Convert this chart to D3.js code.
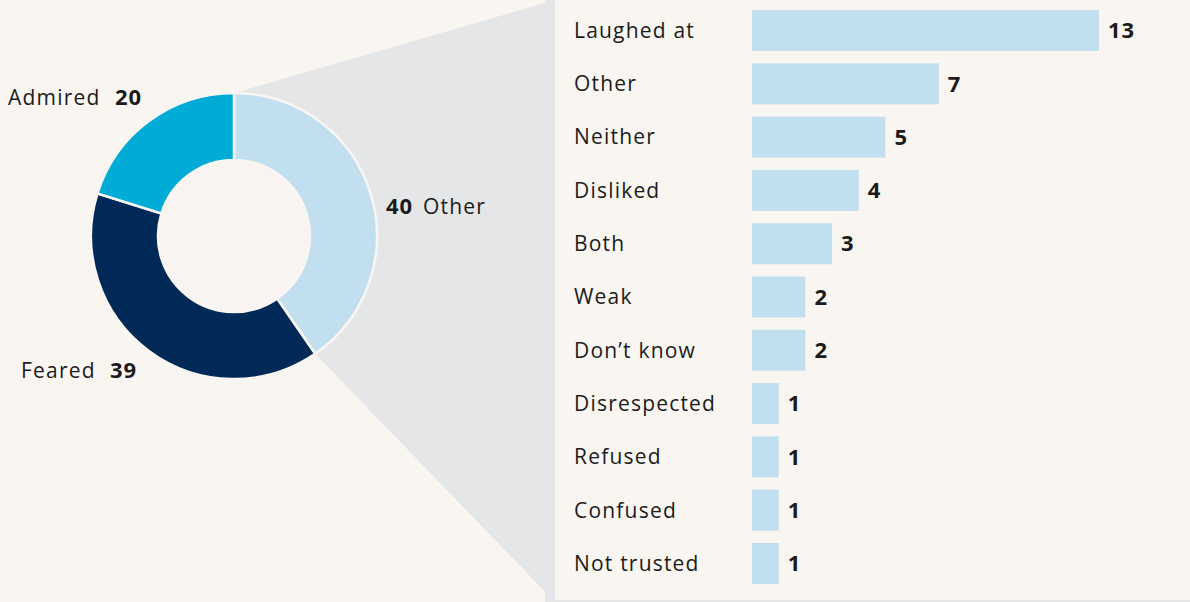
<!DOCTYPE html>
<html>
<head>
<meta charset="utf-8">
<script src="https://cdn.jsdelivr.net/npm/d3@7"></script>
<style>
  body { margin: 0; background: #f9f6f2; }
  text { font-family: "Open Sans", sans-serif; fill: #1b1b1b; }
  .nm { font-size: 21px; letter-spacing: 1.2px; }
  .num { font-size: 22px; font-weight: bold; letter-spacing: 0.8px; }
</style>
</head>
<body>
<div id="chart"></div>
<script>
// donut data
var donutNames = ["Other", "Feared", "Admired"];
var donutValues = [40, 39, 20];
var donutColors = ["#c2dff0", "#002957", "#00acd6"];

// breakdown of "Other"
var barNames = ["Laughed at", "Other", "Neither", "Disliked", "Both", "Weak", "Don\u2019t know",
    "Disrespected", "Refused", "Confused", "Not trusted"];
var barValues = [13, 7, 5, 4, 3, 2, 2, 1, 1, 1, 1];

var svgWidth = 1190;
var svgHeight = 602;

var svg = d3.select("#chart")
    .append("svg")
    .attr("width", svgWidth)
    .attr("height", svgHeight);

svg.append("rect")
    .attr("width", svgWidth)
    .attr("height", svgHeight)
    .attr("fill", "#f9f6f2");

// donut geometry
var cx = 234, cy = 236;
var outerR = 143, innerR = 76;

var pie = d3.pie().sort(null).value(d => d);
var arcs = pie(donutValues);
var arc = d3.arc().innerRadius(innerR).outerRadius(outerR);

// grey fan from the "Other" slice to the bar panel
var panelX = 555;
var a0 = arcs[0].startAngle, a1 = arcs[0].endAngle;
var p0 = [cx + outerR * Math.sin(a0), cy - outerR * Math.cos(a0)];
var p1 = [cx + outerR * Math.sin(a1), cy - outerR * Math.cos(a1)];
svg.append("path")
    .attr("d", `M${p0[0]},${p0[1]} L${panelX},0 L${panelX},${svgHeight} L${p1[0]},${p1[1]} Z`)
    .attr("fill", "#e5e6e8");
svg.append("rect")
    .attr("x", panelX - 10)
    .attr("width", svgWidth - panelX + 10)
    .attr("height", svgHeight)
    .attr("fill", "#e5e6e8");
svg.append("rect")
    .attr("x", panelX)
    .attr("y", 0)
    .attr("width", svgWidth - panelX)
    .attr("height", 600)
    .attr("fill", "#f9f6f2");

// donut
var donut = svg.append("g")
    .attr("transform", `translate(${cx}, ${cy})`);
donut.append("circle")
    .attr("r", innerR)
    .attr("fill", "#f9f4f2");
donut.selectAll("path")
    .data(arcs)
    .enter()
    .append("path")
    .attr("d", arc)
    .attr("fill", (d, i) => donutColors[i])
    .attr("stroke", "#f9f6f2")
    .attr("stroke-width", 2.5);

// donut labels: name then value, or value then name
var donutLabels = [
    { i: 2, x: 8, numX: 115, y: 105 },
    { i: 1, x: 21, numX: 110, y: 378 },
    { i: 0, x: 423, numX: 386, y: 214 }
];
donutLabels.forEach(l => {
    svg.append("text")
        .attr("class", "nm")
        .attr("x", l.x)
        .attr("y", l.y)
        .text(donutNames[l.i]);
    svg.append("text")
        .attr("class", "num")
        .attr("x", l.numX)
        .attr("y", l.y)
        .text(donutValues[l.i]);
});

// bar chart
var barLeft = 752;
var xScale = d3.scaleLinear()
    .domain([0, 13])
    .range([0, 347]);
var yScale = d3.scaleBand()
    .domain(barNames)
    .range([10, 584])
    .paddingInner(0.23)
    .paddingOuter(0);

var bars = svg.append("g");
bars.selectAll("rect")
    .data(barValues)
    .enter()
    .append("rect")
    .attr("x", barLeft)
    .attr("y", (d, i) => yScale(barNames[i]))
    .attr("width", d => xScale(d))
    .attr("height", yScale.bandwidth())
    .attr("fill", "#c2dff0");

bars.selectAll(".nm")
    .data(barNames)
    .enter()
    .append("text")
    .attr("class", "nm")
    .attr("x", 574)
    .attr("y", d => yScale(d) + yScale.bandwidth() / 2)
    .attr("dy", "0.35em")
    .text(d => d);

bars.selectAll(".num")
    .data(barValues)
    .enter()
    .append("text")
    .attr("class", "num")
    .attr("x", d => barLeft + xScale(d) + 9)
    .attr("y", (d, i) => yScale(barNames[i]) + yScale.bandwidth() / 2)
    .attr("dy", "0.35em")
    .text(d => d);
</script>
</body>
</html>
